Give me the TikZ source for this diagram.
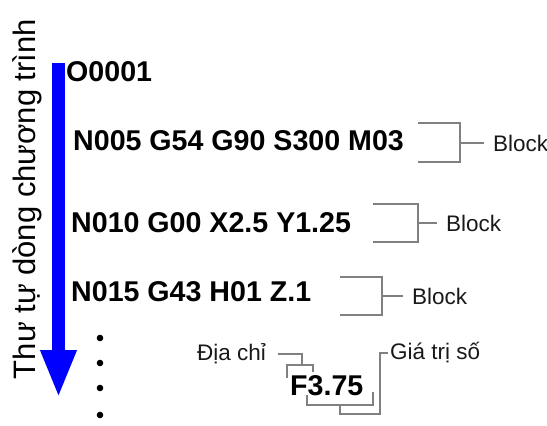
\documentclass[tikz,border=0pt]{standalone}
\usepackage{fontspec}
\setmainfont{Liberation Sans}
\usetikzlibrary{arrows.meta,positioning}

\begin{document}
\begin{tikzpicture}[
    x=1pt, y=-1pt,
    code/.style={font=\fontsize{28.6}{32}\selectfont\bfseries, anchor=base west, inner sep=0pt},
    lbl/.style={font=\fontsize{22.5}{26}\selectfont, text=black!90, anchor=west, inner sep=0pt},
    brk/.style={draw=black!50, line width=1.4pt},
    tick/.style={brk, shorten >=9pt},
    flow/.style={-{Triangle[width=33pt, length=48pt]}, line width=13pt, blue},
]
\useasboundingbox (0,0) rectangle (547,426);

% program order arrow
\node[rotate=90, font=\fontsize{31}{34}\selectfont] (order) at (27,199) {Thư tự dòng chương trình};
\coordinate (top) at (58.5,63);
\coordinate (tip) at (58.5,398);
\draw[flow] (top) -- (tip);

% program lines
\node[code] (prog) at (66,81) {O0001};
\node[code] (n005) at (73,150) {N005 G54 G90 S300 M03};
\node[code] (n010) at (71,232) {N010 G00 X2.5 Y1.25};
\node[code] (n015) at (71,301) {N015 G43 H01 Z.1};
\foreach \y in {338,363,388,415}
    \fill (100,\y) circle (3.3pt);

% blocks
\node[lbl] (blk1) at (493,143) {Block};
\node[lbl] (blk2) at (446,223) {Block};
\node[lbl] (blk3) at (412,296) {Block};
\draw[brk] (418,123) -| (460,162) -- (418,162);
\draw[tick] (460,143) -- (blk1.west);
\draw[brk] (373,204) -| (418,242) -- (373,242);
\draw[tick] (418,223) -- (blk2.west);
\draw[brk] (340,277) -| (382,315) -- (340,315);
\draw[tick] (382,296) -- (blk3.west);

% word
\node[code] (word) at (290,395) {F3.75};
\node[lbl] (addr) at (197,354) {Địa chỉ};
\node[lbl] (val) at (390,353) {Giá trị số};
\draw[brk] (287,378) |- (313,365) -- (313,372);
\draw[brk] ([xshift=12pt]addr.east) -| (302,365);
\draw[brk] (307,395) |- (373,405) -- (373,392);
\draw[brk] (340,405) |- (380,414) |- ([xshift=-2pt]val.west);
\end{tikzpicture}
\end{document}
